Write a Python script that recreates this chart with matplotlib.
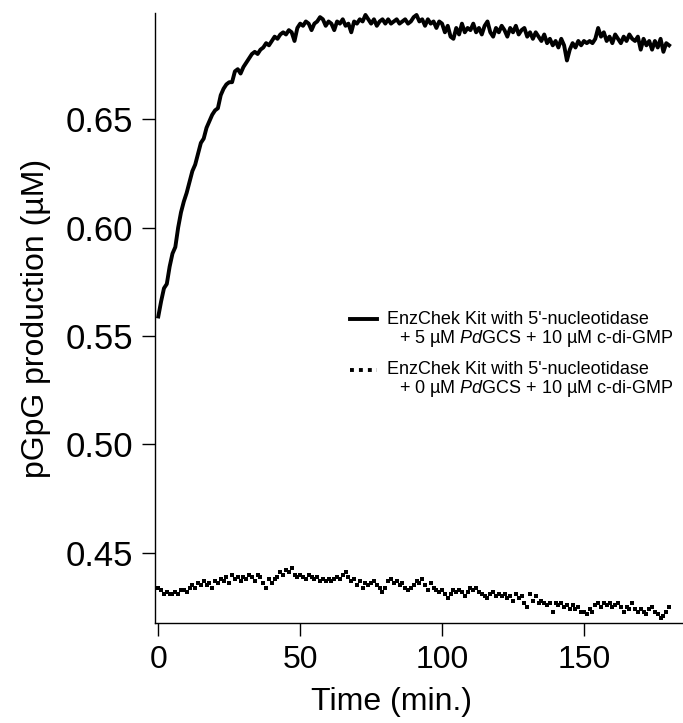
import matplotlib
matplotlib.use("Agg")
import matplotlib.pyplot as plt
import numpy as np
from matplotlib.lines import Line2D

plt.rcParams['font.family'] = ['Liberation Sans', 'DejaVu Sans']
plt.rcParams['mathtext.fontset'] = 'custom'
plt.rcParams['mathtext.rm'] = 'Liberation Sans'
plt.rcParams['mathtext.it'] = 'Liberation Sans:italic'

# time axis (min), one reading per minute
time_min = np.arange(0, 181, 1)

# EnzChek + 5 uM PdGCS + 10 uM c-di-GMP (solid)
with_enzyme = [
    0.559, 0.566, 0.572, 0.574, 0.582, 0.588, 0.591, 0.600, 0.607, 0.612,
    0.616, 0.621, 0.626, 0.629, 0.634, 0.639, 0.641, 0.646, 0.649, 0.652,
    0.654, 0.655, 0.661, 0.664, 0.666, 0.667, 0.667, 0.672, 0.673, 0.671,
    0.674, 0.676, 0.678, 0.680, 0.681, 0.680, 0.682, 0.683, 0.685, 0.684,
    0.686, 0.688, 0.687, 0.689, 0.690, 0.689, 0.691, 0.690, 0.686, 0.692,
    0.694, 0.693, 0.695, 0.694, 0.691, 0.694, 0.695, 0.697, 0.696, 0.693,
    0.695, 0.694, 0.691, 0.695, 0.694, 0.696, 0.693, 0.694, 0.690, 0.695,
    0.694, 0.696, 0.695, 0.698, 0.696, 0.694, 0.696, 0.693, 0.695, 0.696,
    0.694, 0.696, 0.694, 0.695, 0.696, 0.694, 0.695, 0.696, 0.694, 0.695,
    0.697, 0.698, 0.695, 0.696, 0.693, 0.696, 0.694, 0.695, 0.692, 0.695,
    0.694, 0.690, 0.693, 0.688, 0.687, 0.692, 0.689, 0.694, 0.690, 0.692,
    0.691, 0.694, 0.690, 0.692, 0.689, 0.693, 0.695, 0.690, 0.688, 0.692,
    0.690, 0.693, 0.691, 0.688, 0.692, 0.690, 0.693, 0.689, 0.691, 0.692,
    0.688, 0.690, 0.687, 0.690, 0.688, 0.686, 0.689, 0.685, 0.687, 0.684,
    0.686, 0.683, 0.687, 0.684, 0.677, 0.682, 0.685, 0.683, 0.686, 0.684,
    0.686, 0.685, 0.686, 0.685, 0.687, 0.692, 0.688, 0.690, 0.686, 0.688,
    0.685, 0.689, 0.687, 0.685, 0.688, 0.686, 0.689, 0.687, 0.686, 0.688,
    0.682, 0.687, 0.684, 0.686, 0.682, 0.686, 0.683, 0.687, 0.681, 0.685,
    0.684,
]

# EnzChek + 0 uM PdGCS + 10 uM c-di-GMP (dotted)
no_enzyme = [
    0.434, 0.433, 0.431, 0.432, 0.431, 0.431, 0.432, 0.431, 0.433, 0.433,
    0.432, 0.434, 0.435, 0.434, 0.436, 0.435, 0.437, 0.435, 0.436, 0.434,
    0.437, 0.436, 0.438, 0.437, 0.439, 0.436, 0.440, 0.438, 0.439, 0.437,
    0.439, 0.438, 0.440, 0.439, 0.437, 0.440, 0.439, 0.436, 0.434, 0.438,
    0.436, 0.438, 0.439, 0.441, 0.440, 0.442, 0.441, 0.443, 0.440, 0.439,
    0.440, 0.439, 0.438, 0.440, 0.439, 0.438, 0.439, 0.437, 0.438, 0.437,
    0.438, 0.437, 0.438, 0.439, 0.438, 0.440, 0.441, 0.439, 0.437, 0.438,
    0.435, 0.437, 0.434, 0.436, 0.435, 0.436, 0.437, 0.435, 0.434, 0.432,
    0.434, 0.437, 0.438, 0.436, 0.437, 0.435, 0.436, 0.434, 0.433, 0.434,
    0.435, 0.437, 0.436, 0.438, 0.435, 0.433, 0.436, 0.434, 0.433, 0.432,
    0.433, 0.431, 0.429, 0.431, 0.433, 0.432, 0.433, 0.432, 0.430, 0.432,
    0.434, 0.433, 0.434, 0.432, 0.431, 0.430, 0.429, 0.431, 0.432, 0.430,
    0.431, 0.430, 0.431, 0.429, 0.430, 0.428, 0.431, 0.429, 0.430, 0.427,
    0.425, 0.431, 0.428, 0.430, 0.427, 0.428, 0.427, 0.426, 0.427, 0.423,
    0.427, 0.426, 0.427, 0.425, 0.426, 0.424, 0.426, 0.424, 0.425, 0.423,
    0.423, 0.422, 0.424, 0.423, 0.426, 0.427, 0.425, 0.427, 0.426, 0.427,
    0.425, 0.426, 0.427, 0.425, 0.423, 0.425, 0.424, 0.427, 0.424, 0.423,
    0.424, 0.423, 0.422, 0.424, 0.425, 0.423, 0.422, 0.420, 0.421, 0.423,
    0.425,
]

x_ticks = [0, 50, 100, 150]
y_ticks = [0.45, 0.50, 0.55, 0.60, 0.65]

fig = plt.figure(figsize=(6.83, 7.23), dpi=100)
ax = fig.add_axes([155 / 683, 1 - 623 / 723, 528 / 683, 610 / 723])

ax.plot(time_min, with_enzyme, color='black', lw=2.8)
ax.plot(time_min, no_enzyme, ls='none', marker='s', ms=2.6, color='black', mew=0)

ax.set_xlim(-1.16, 184.9)
ax.set_ylim(0.4177, 0.6989)
ax.set_xticks(x_ticks)
ax.set_yticks(y_ticks)
ax.set_yticklabels([f"{v:.2f}" for v in y_ticks])

for s in ['top', 'right']:
    ax.spines[s].set_visible(False)
for s in ['left', 'bottom']:
    ax.spines[s].set_linewidth(1.0)
ax.tick_params(direction='out', length=9.5, width=1.0, pad=6)
ax.tick_params(axis='x', labelsize=23)
ax.tick_params(axis='y', labelsize=25)

ax.set_xlabel('Time (min.)', fontsize=23)
ax.xaxis.set_label_coords(0.447, -0.105)
ax.set_ylabel('pGpG production (µM)', fontsize=23, labelpad=11)

# legend drawn by hand to keep the two-line, indented labels
ax.add_line(Line2D([0.369, 0.420], [0.498, 0.498], transform=ax.transAxes,
                   color='black', lw=2.8))
ax.add_line(Line2D([0.369, 0.420], [0.415, 0.415], transform=ax.transAxes,
                   color='black', lw=2.8, ls=(0, (1, 1.3))))
legend_lines = [
    (0.439, 0.497, "EnzChek Kit with 5'-nucleotidase"),
    (0.462, 0.466, r"+ 5 µM $\mathit{Pd}$GCS + 10 µM c-di-GMP"),
    (0.439, 0.415, "EnzChek Kit with 5'-nucleotidase"),
    (0.462, 0.384, r"+ 0 µM $\mathit{Pd}$GCS + 10 µM c-di-GMP"),
]
for lx, ly, txt in legend_lines:
    ax.text(lx, ly, txt, transform=ax.transAxes, fontsize=13,
            ha='left', va='center')

fig.savefig('out.png', dpi=100)
